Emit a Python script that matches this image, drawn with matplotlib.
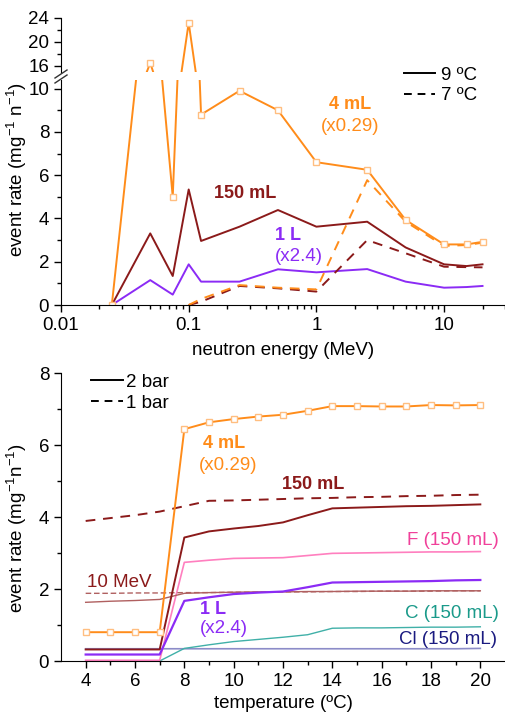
import matplotlib
matplotlib.use('Agg')
import matplotlib.pyplot as plt
from matplotlib.lines import Line2D
from matplotlib.ticker import MultipleLocator, FixedLocator

plt.rcParams['font.family'] = ['Liberation Sans', 'DejaVu Sans']
plt.rcParams['mathtext.fontset'] = 'custom'
plt.rcParams['mathtext.rm'] = 'Liberation Sans'
plt.rcParams['mathtext.it'] = 'Liberation Sans'
plt.rcParams['font.size'] = 13

# top panel: event rate vs neutron energy
energy = [0.025, 0.05, 0.075, 0.1, 0.125, 0.25, 0.5, 1, 2.5, 5, 10, 15, 20]
ml4_9C = [0, 16.5, 5.0, 23.2, 8.8, 9.9, 9.0, 6.6, 6.25, 3.93, 2.8, 2.8, 2.92]
ml150_9C = [0, 3.31, 1.34, 5.34, 2.96, 3.62, 4.39, 3.62, 3.85, 2.66, 1.88, 1.8, 1.88]
l1_9C = [0, 1.15, 0.48, 1.88, 1.08, 1.08, 1.65, 1.51, 1.66, 1.08, 0.8, 0.83, 0.88]
energy_7C = [0.1, 0.125, 0.25, 0.5, 1, 2.5, 5, 10, 15, 20]
ml4_7C = [0, 0.28, 0.92, 0.8, 0.72, 5.77, 3.85, 2.73, 2.77, 2.88]
ml150_7C = [0, 0.15, 0.88, 0.77, 0.62, 3.0, 2.39, 1.77, 1.75, 1.74]

# bottom panel: event rate vs temperature
temp = [4, 5, 6, 7, 8, 9, 10, 11, 12, 13, 14, 15, 16, 17, 18, 19, 20]
ml4_2bar = [0.8, 0.8, 0.8, 0.8, 6.44, 6.63, 6.72, 6.79, 6.84, 6.95, 7.08, 7.08, 7.07, 7.07, 7.11, 7.1, 7.11]
ml150_2bar = [0.32, 0.32, 0.32, 0.32, 3.43, 3.6, 3.68, 3.75, 3.85, 4.05, 4.24, 4.26, 4.28, 4.3, 4.31, 4.33, 4.35]
ml150_1bar = [3.89, 3.97, 4.05, 4.15, 4.3, 4.45, 4.46, 4.48, 4.5, 4.52, 4.53, 4.55, 4.56, 4.58, 4.59, 4.61, 4.62]
l1_2bar = [0.18, 0.18, 0.18, 0.18, 1.67, 1.77, 1.86, 1.9, 1.93, 2.05, 2.18, 2.19, 2.2, 2.21, 2.22, 2.24, 2.25]
F_2bar = [0.02, 0.02, 0.02, 0.02, 2.74, 2.8, 2.85, 2.86, 2.87, 2.93, 2.99, 3.0, 3.01, 3.02, 3.03, 3.03, 3.04]
C_2bar = [0, 0, 0, 0, 0.35, 0.45, 0.54, 0.6, 0.66, 0.73, 0.91, 0.92, 0.92, 0.93, 0.94, 0.94, 0.95]
Cl_2bar = [0.34, 0.34, 0.34, 0.34, 0.34, 0.34, 0.34, 0.34, 0.34, 0.34, 0.34, 0.34, 0.34, 0.34, 0.34, 0.34, 0.35]
mev10_2bar = [1.63, 1.66, 1.68, 1.71, 1.88, 1.9, 1.91, 1.92, 1.92, 1.93, 1.93, 1.94, 1.94, 1.94, 1.95, 1.95, 1.95]
mev10_1bar = [1.88, 1.88, 1.89, 1.89, 1.9, 1.9, 1.91, 1.91, 1.92, 1.92, 1.93, 1.93, 1.94, 1.94, 1.94, 1.95, 1.95]

orange = '#FF8C1A'
mk_edge = '#FFBE80'
dred = '#8B1A1A'
purple = '#8B2BF5'
pink_line = '#FF7FBF'
pink_txt = '#F0409A'
teal_line = '#40B0A8'
teal_txt = '#1A9A8A'
cl_line = '#8C8CC8'
cl_txt = '#1A1A80'
mev_line = '#B06060'

W, H = 505, 712


def box(l, t, r, b):
    return [l / W, 1 - b / H, (r - l) / W, (b - t) / H]


def style(ax):
    ax.spines['top'].set_visible(False)
    ax.spines['right'].set_visible(False)
    ax.tick_params(which='major', direction='out', length=5, width=1, labelsize=13.5)
    ax.tick_params(which='minor', direction='out', length=3, width=1)


fig = plt.figure(figsize=(5.05, 7.12), dpi=100)

ax_hi = fig.add_axes(box(61, 18, 505, 72))
ax_lo = fig.add_axes(box(61, 80, 505, 305))
ax_t = fig.add_axes(box(61, 373, 505, 661))

mk = dict(marker='s', markersize=5, markerfacecolor='white', markeredgecolor=mk_edge, markeredgewidth=1)

for ax in (ax_hi, ax_lo):
    style(ax)
    ax.set_xscale('log')
    ax.set_xlim(0.01, 30)
    ax.plot(energy, l1_9C, color=purple, lw=1.4)
    ax.plot(energy_7C, ml150_7C, color=dred, lw=1.4, ls=(0, (5, 4)))
    ax.plot(energy_7C, ml4_7C, color=orange, lw=1.4, ls=(0, (5, 4)))
    ax.plot(energy, ml150_9C, color=dred, lw=1.4)
    ax.plot(energy, ml4_9C, color=orange, lw=1.4, **mk)

ax_hi.set_ylim(15, 24)
ax_hi.yaxis.set_major_locator(FixedLocator([16, 20, 24]))
ax_hi.yaxis.set_minor_locator(FixedLocator([18, 22]))
ax_hi.spines['bottom'].set_visible(False)
ax_hi.tick_params(axis='x', which='both', bottom=False, labelbottom=False)

ax_lo.set_ylim(0, 10.4)
ax_lo.yaxis.set_major_locator(MultipleLocator(2))
ax_lo.yaxis.set_minor_locator(MultipleLocator(1))
ax_lo.set_xticks([0.01, 0.1, 1, 10], ['0.01', '0.1', '1', '10'])
ax_lo.set_xlabel('neutron energy (MeV)', fontsize=13.5, labelpad=6)
ax_lo.set_ylabel('event rate (mg$^{-1}$ n$^{-1}$)', fontsize=13.5)
ax_lo.yaxis.set_label_coords(-0.072, 0.6)

# axis break marks
for dy in (0, 5):
    fig.add_artist(Line2D([55 / W, 67 / W], [1 - (78 + dy) / H, 1 - (70 + dy) / H],
                          color='#333333', lw=1, transform=fig.transFigure))

ax_lo.text(1.85, 9.28, '4 mL', color=orange, fontsize=13, fontweight='bold', ha='center', va='center')
ax_lo.text(1.85, 8.27, '(x0.29)', color=orange, fontsize=13.5, ha='center', va='center')
ax_lo.text(0.279, 5.17, '150 mL', color=dred, fontsize=13, fontweight='bold', ha='center', va='center')
ax_lo.text(0.47, 3.19, '1 L', color=purple, fontsize=13, fontweight='bold', ha='left', va='center')
ax_lo.text(0.47, 2.22, '(x2.4)', color=purple, fontsize=13.5, ha='left', va='center')

h_top = [Line2D([], [], color='black', lw=1.4), Line2D([], [], color='black', lw=1.4, ls=(0, (4, 3)))]
ax_lo.legend(h_top, ['9 ºC', '7 ºC'], frameon=False, fontsize=13.5, handlelength=1.7,
             handletextpad=0.3, labelspacing=0.2, borderaxespad=0,
             loc='upper left', bbox_to_anchor=(396 / W, 1 - 59 / H), bbox_transform=fig.transFigure)

# bottom panel
style(ax_t)
ax_t.plot(temp, Cl_2bar, color=cl_line, lw=1.2)
ax_t.plot(temp, C_2bar, color=teal_line, lw=1.0)
ax_t.plot(temp, F_2bar, color=pink_line, lw=1.2)
ax_t.plot(temp, mev10_2bar, color=mev_line, lw=1.0)
ax_t.plot(temp, mev10_1bar, color=mev_line, lw=1.0, ls=(0, (4, 2)))
ax_t.plot(temp, l1_2bar, color=purple, lw=1.6)
ax_t.plot(temp, ml150_1bar, color=dred, lw=1.4, ls=(0, (5, 4)))
ax_t.plot(temp, ml150_2bar, color=dred, lw=1.4)
ax_t.plot(temp, ml4_2bar, color=orange, lw=1.4, **mk)

ax_t.set_xlim(3, 21)
ax_t.set_ylim(0, 8)
ax_t.xaxis.set_major_locator(FixedLocator(list(range(4, 21, 2))))
ax_t.xaxis.set_minor_locator(FixedLocator(list(range(5, 21, 2))))
ax_t.yaxis.set_major_locator(MultipleLocator(2))
ax_t.yaxis.set_minor_locator(MultipleLocator(1))
ax_t.set_xlabel('temperature (ºC)', fontsize=13.5, labelpad=4)
ax_t.set_ylabel('event rate (mg$^{-1}$n$^{-1}$)', fontsize=13.5)
ax_t.yaxis.set_label_coords(-0.072, 0.46)

ax_t.text(8.76, 6.03, '4 mL', color=orange, fontsize=13, fontweight='bold', va='center')
ax_t.text(8.6, 5.42, '(x0.29)', color=orange, fontsize=13.5, va='center')
ax_t.text(11.97, 4.89, '150 mL', color=dred, fontsize=13, fontweight='bold', va='center')
ax_t.text(17.04, 3.36, 'F (150 mL)', color=pink_txt, fontsize=13.5, va='center')
ax_t.text(4.05, 2.19, '10 MeV', color=dred, fontsize=13.5, va='center')
ax_t.text(8.64, 1.44, '1 L', color=purple, fontsize=13, fontweight='bold', va='center')
ax_t.text(8.64, 0.89, '(x2.4)', color=purple, fontsize=13.5, va='center')
ax_t.text(16.96, 1.33, 'C (150 mL)', color=teal_txt, fontsize=13.5, va='center')
ax_t.text(16.71, 0.61, 'Cl (150 mL)', color=cl_txt, fontsize=13.5, va='center')

h_bot = [Line2D([], [], color='black', lw=1.4), Line2D([], [], color='black', lw=1.4, ls=(0, (4, 3)))]
ax_t.legend(h_bot, ['2 bar', '1 bar'], frameon=False, fontsize=13.5, handlelength=1.75,
            handletextpad=0.15, labelspacing=0.2, borderaxespad=0,
            loc='upper left', bbox_to_anchor=(83 / W, 1 - 366 / H), bbox_transform=fig.transFigure)

fig.savefig('out.png', dpi=100)
